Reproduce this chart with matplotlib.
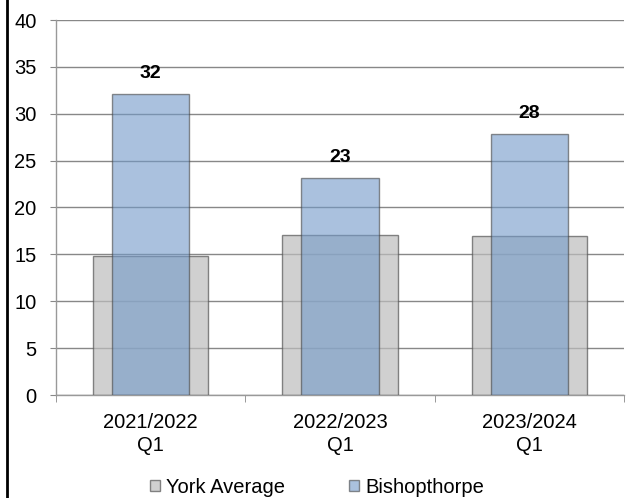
import matplotlib.pyplot as plt
import numpy as np

plt.rcParams['font.family'] = ['Liberation Sans', 'DejaVu Sans']

categories = ['2021/2022\nQ1', '2022/2023\nQ1', '2023/2024\nQ1']
york_avg = [14.8, 17.1, 17.0]
bishopthorpe = [32.1, 23.1, 27.8]

fig = plt.figure(figsize=(6.28, 4.98), dpi=100)
ax = fig.add_axes([56 / 628, 1 - 395 / 498, 568 / 628, 375 / 498])

x = np.arange(len(categories))
ax.bar(x, york_avg, width=0.61, color='#bdbdbd', alpha=0.7,
       edgecolor='#555555', linewidth=1.0, label='York Average', zorder=3)
ax.bar(x, bishopthorpe, width=0.41, color='#7299c8', alpha=0.6,
       edgecolor='#444444', linewidth=1.0, label='Bishopthorpe', zorder=4)

for xi, v in zip(x, bishopthorpe):
    ax.text(xi, v + 1.3, f'{v:.0f}', ha='center', va='bottom',
            fontsize=14, fontweight='bold', zorder=5)

ax.set_xlim(-0.5, 2.5)
ax.set_ylim(0, 40)
ax.set_yticks(range(0, 41, 5))
ax.set_xticks(x)
ax.set_xticklabels(categories, linespacing=1.25)
ax.set_xticks([-0.5, 0.5, 1.5, 2.5], minor=True)
ax.tick_params(axis='x', which='major', length=0, labelsize=14.5, pad=13)
ax.tick_params(axis='x', which='minor', length=5, color='#888888')
ax.tick_params(axis='y', length=4, color='#888888', labelsize=14.5, pad=10)

ax.grid(axis='y', color='#888888', linewidth=1.0, zorder=0)
for side in ['left', 'bottom', 'right', 'top']:
    ax.spines[side].set_color('#999999')
    ax.spines[side].set_linewidth(1.0)
ax.spines['right'].set_visible(False)
ax.spines['top'].set_visible(False)

fig.legend(loc='lower center', bbox_to_anchor=(0.505, -0.022), ncol=2,
           frameon=False, fontsize=14.5, handlelength=0.5, handleheight=0.5,
           handletextpad=0.3, columnspacing=3.2, borderpad=0.1)

fig.add_artist(plt.Line2D([7 / 628, 7 / 628], [0, 1], color='black',
                          linewidth=2, transform=fig.transFigure))

plt.savefig('out.png', dpi=100)
